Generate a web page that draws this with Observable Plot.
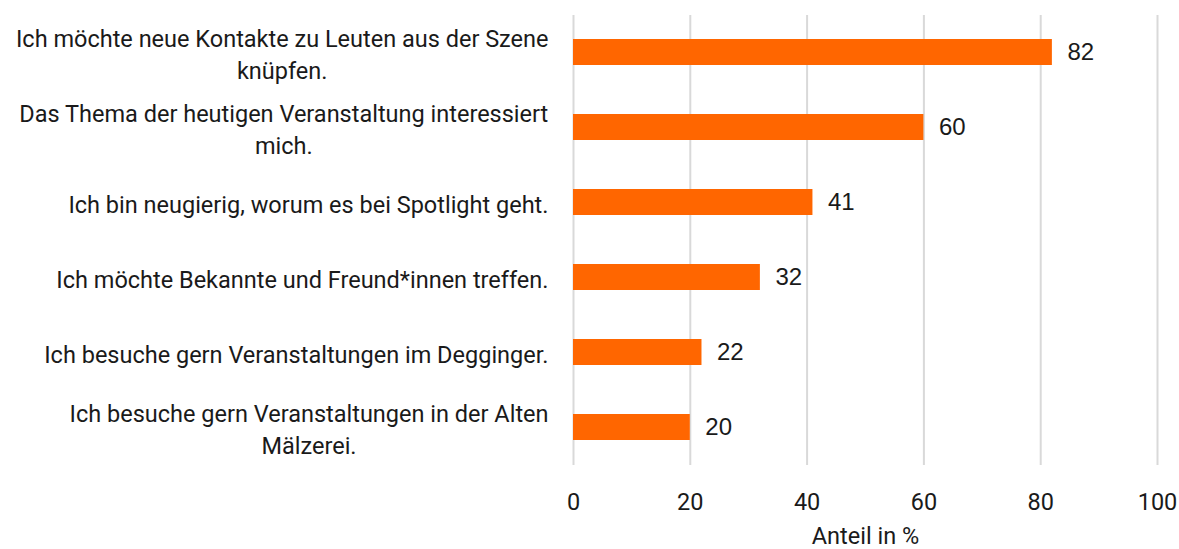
<!DOCTYPE html>
<html>
<head>
<meta charset="utf-8">
<script src="https://cdn.jsdelivr.net/npm/d3@7"></script>
<script src="https://cdn.jsdelivr.net/npm/@observablehq/plot@0.6"></script>
<style>
  html, body { margin: 0; padding: 0; background: #fff; }
  #chart svg { display: block; }
</style>
</head>
<body>
<div id="chart"></div>
<script>
const categories = [
  "Ich möchte neue Kontakte zu Leuten aus der Szene\nknüpfen.",
  "Das Thema der heutigen Veranstaltung interessiert\nmich.",
  "Ich bin neugierig, worum es bei Spotlight geht.",
  "Ich möchte Bekannte und Freund*innen treffen.",
  "Ich besuche gern Veranstaltungen im Degginger.",
  "Ich besuche gern Veranstaltungen in der Alten\nMälzerei."
];
const values = [82, 60, 41, 32, 22, 20];
const xTicks = [0, 20, 40, 60, 80, 100];
const xLabel = "Anteil in %";

const data = categories.map((c, i) => ({category: c, value: values[i]}));

const catFont = "Roboto";
const catSize = 23.5;
const valFont = "Liberation Sans, Arial, sans-serif";
const valSize = 24;
const gap = 25;

const ctx = document.createElement("canvas").getContext("2d");
ctx.font = `${catSize}px ${catFont}`;
function blockWidth(s) {
  return Math.max(...s.split("\n").map(l => ctx.measureText(l).width));
}

const labelMarks = data.map(d =>
  Plot.text([d], {
    x: () => 0,
    y: "category",
    text: "category",
    textAnchor: "middle",
    lineAnchor: "middle",
    lineHeight: 1.38,
    dx: -(gap + blockWidth(d.category) / 2),
    fontSize: catSize,
    fontFamily: catFont,
    fill: "#1a1a1a"
  })
);

const plot = Plot.plot({
  width: 1179,
  height: 549,
  marginLeft: 573,
  marginRight: 22,
  marginTop: 15,
  marginBottom: 84,
  x: {domain: [0, 100]},
  y: {domain: categories, paddingInner: 0.65, paddingOuter: 0.325},
  style: {fontFamily: catFont, background: "#fff"},
  marks: [
    Plot.gridX(xTicks, {stroke: "#d9d9d9", strokeOpacity: 1, strokeWidth: 2}),
    Plot.barX(data, {x: "value", y: "category", fill: "#ff6600"}),
    Plot.text(data, {
      x: "value", y: "category", text: d => String(d.value),
      textAnchor: "start", dx: 15, fontSize: valSize, fontFamily: valFont, fill: "#1a1a1a"
    }),
    ...labelMarks,
    Plot.axisX(xTicks, {
      tickSize: 0, tickPadding: 28, fontSize: catSize, fontFamily: catFont,
      label: null, fill: "#1a1a1a"
    }),
    Plot.axisY({ticks: [], label: null, tickSize: 0}),
    Plot.text([xLabel], {
      frameAnchor: "bottom", text: d => d, dy: 71, fontSize: catSize,
      fontFamily: catFont, fill: "#1a1a1a", lineAnchor: "middle"
    })
  ]
});
document.getElementById("chart").appendChild(plot);
</script>
</body>
</html>
